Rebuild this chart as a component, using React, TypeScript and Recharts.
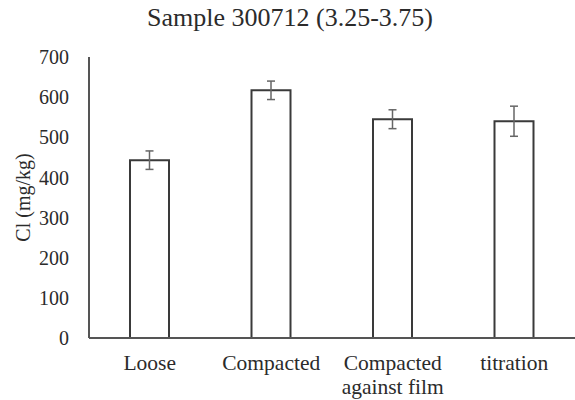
import React from "react";
import { BarChart, Bar, XAxis, YAxis, ErrorBar, Label } from "recharts";

const categories = ["Loose", "Compacted", "Compacted against film", "titration"];
const values = [443, 617, 545, 540];
const errors = [23, 23, 23.5, 37.5];
const yTicks = [0, 100, 200, 300, 400, 500, 600, 700];

const data = categories.map((c, i) => ({ name: c, value: values[i], err: errors[i] }));

const FONT = "Liberation Serif";
const AXIS = "#555555";
const TEXT = "#2b2b2b";

const CatTick = (props: any) => {
  const { x, y, payload } = props;
  const label: string = payload.value;
  const words = label.split(" ");
  const lines = label.length > 12 ? [words[0], words.slice(1).join(" ")] : [label];
  return (
    <text x={x} y={y} textAnchor="middle" fontFamily={FONT} fontSize={21.5} fill={TEXT}>
      {lines.map((l, i) => (
        <tspan key={i} x={x} dy={i === 0 ? 24 : 23.5}>
          {l}
        </tspan>
      ))}
    </text>
  );
};

export default function App() {
  return (
    <div style={{ position: "absolute", left: 0, top: 0, width: 575, height: 400, background: "#fff" }}>
      <div
        style={{
          position: "absolute",
          left: 0,
          top: 4,
          width: 580,
          textAlign: "center",
          fontFamily: FONT,
          fontSize: 26,
          lineHeight: "28px",
          color: TEXT,
        }}
      >
        Sample 300712 (3.25-3.75)
      </div>
      <BarChart
        width={575}
        height={400}
        data={data}
        margin={{ top: 57, right: 0, bottom: 0, left: 30 }}
      >
        <XAxis
          dataKey="name"
          height={62}
          tickLine={false}
          axisLine={{ stroke: AXIS, strokeWidth: 2 }}
          tick={<CatTick />}
          interval={0}
        />
        <YAxis
          width={59}
          domain={[0, 700]}
          ticks={yTicks}
          tickLine={false}
          axisLine={{ stroke: AXIS, strokeWidth: 2 }}
          tick={{ fontFamily: FONT, fontSize: 20, fill: TEXT }}
          tickMargin={14}
        >
          <Label
            value="Cl (mg/kg)"
            angle={-90}
            position="insideLeft"
            offset={-7}
            style={{ fontFamily: FONT, fontSize: 20, fill: TEXT, textAnchor: "middle" }}
          />
        </YAxis>
        <Bar dataKey="value" fill="#ffffff" stroke="#3a3a3a" strokeWidth={2} barSize={39} isAnimationActive={false}>
          <ErrorBar dataKey="err" width={4} stroke="#666" strokeWidth={1.5} direction="y" />
        </Bar>
      </BarChart>
    </div>
  );
}
